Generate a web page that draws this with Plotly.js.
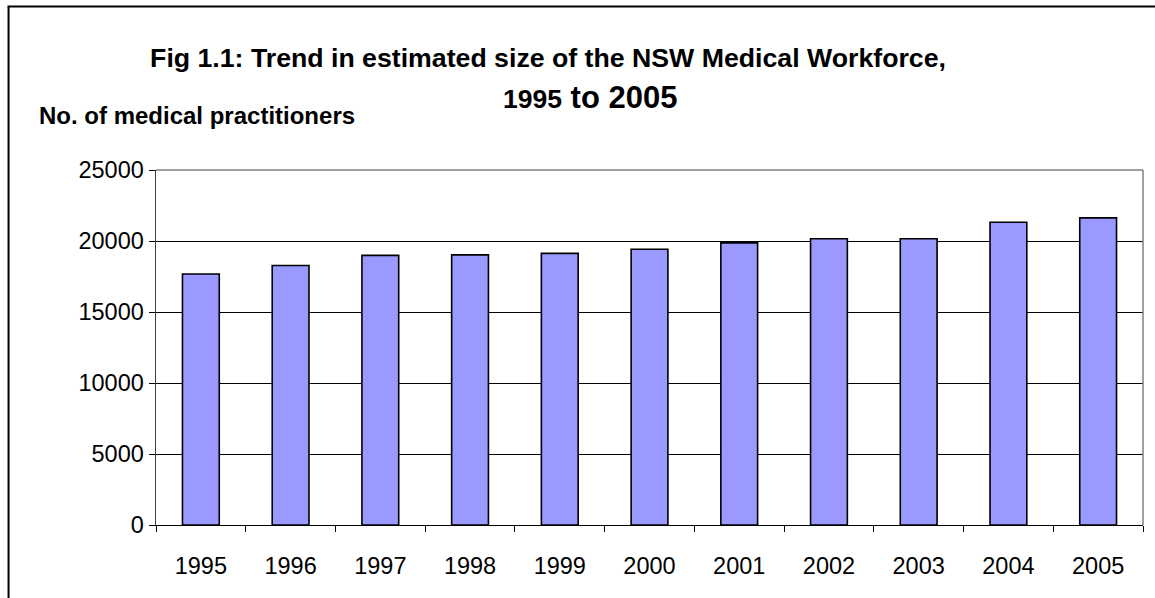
<!DOCTYPE html>
<html>
<head>
<meta charset="utf-8">
<script src="https://cdn.plot.ly/plotly-3.0.1.min.js"></script>
<style>
html,body{margin:0;padding:0;background:#fff;}
#chart{width:1155px;height:598px;}
</style>
</head>
<body>
<div id="chart"></div>
<script>
const years = ['1995','1996','1997','1998','1999','2000','2001','2002','2003','2004','2005'];
const practitioners = [17680, 18270, 18990, 19020, 19130, 19420, 19870, 20160, 20160, 21320, 21630];
const yTicks = [0, 5000, 10000, 15000, 20000, 25000];

const font = 'Liberation Sans, Arial, sans-serif';

const trace = {
  type: 'bar',
  x: years,
  y: practitioners,
  marker: {color: '#9999FF', line: {color: '#000000', width: 1.6}},
  hoverinfo: 'x+y'
};

const layout = {
  width: 1155, height: 598,
  margin: {l: 156, r: 12, t: 170, b: 73},
  paper_bgcolor: '#ffffff', plot_bgcolor: '#ffffff',
  showlegend: false,
  bargap: 0.59,
  font: {family: font, color: '#000'},
  xaxis: {
    type: 'category',
    showgrid: false,
    showline: true, linecolor: '#000', linewidth: 1.2,
    ticks: 'outside', tickson: 'boundaries', ticklen: 6, tickcolor: '#000', tickwidth: 1,
    tickfont: {family: font, size: 23.5, color: '#000'},
    ticklabelstandoff: 20,
    zeroline: false, fixedrange: true
  },
  yaxis: {
    range: [0, 25000],
    tickvals: yTicks,
    ticktext: yTicks.map(String),
    showgrid: true, gridcolor: '#000', gridwidth: 1,
    showline: true, linecolor: '#404040', linewidth: 1.5,
    ticks: 'outside', ticklen: 6, tickcolor: '#000', tickwidth: 1,
    tickfont: {family: font, size: 23.5, color: '#000'},
    zeroline: false, fixedrange: true
  },
  title: {
    text: '<b>Fig 1.1: Trend in estimated size of the NSW Medical Workforce,</b>',
    font: {family: font, size: 26.7, color: '#000'},
    xref: 'container', yref: 'container',
    x: 548/1155, xanchor: 'center',
    y: 1 - 58/598, yanchor: 'middle'
  },
  annotations: [
    {
      text: '<b><span style="font-size:26.5px">1995</span> to 2005</b>',
      xref: 'paper', yref: 'paper', x: 0.4397, y: 1.203,
      xanchor: 'center', yanchor: 'middle', showarrow: false,
      font: {family: font, size: 31, color: '#000'}
    },
    {
      text: '<b>No. of medical practitioners</b>',
      xref: 'paper', yref: 'paper', x: -0.1206, y: 1.1535,
      xanchor: 'left', yanchor: 'middle', showarrow: false,
      font: {family: font, size: 24, color: '#000'}
    }
  ],
  shapes: [
    {type: 'line', xref: 'paper', yref: 'paper', x0: 0, x1: 1, y0: 1, y1: 1,
     line: {color: '#808080', width: 1.5}, layer: 'above'},
    {type: 'line', xref: 'paper', yref: 'paper', x0: 1, x1: 1, y0: 0, y1: 1,
     line: {color: '#808080', width: 1.5}, layer: 'above'},
    {type: 'line', xref: 'paper', yref: 'paper', x0: -0.1494, x1: -0.1494, y0: -0.3, y1: 1.4606,
     line: {color: '#000', width: 2}, layer: 'above'},
    {type: 'line', xref: 'paper', yref: 'paper', x0: -0.1504, x1: 1.1, y0: 1.4606, y1: 1.4606,
     line: {color: '#000', width: 2}, layer: 'above'}
  ]
};

Plotly.newPlot('chart', [trace], layout, {displayModeBar: false, staticPlot: true});
</script>
</body>
</html>
